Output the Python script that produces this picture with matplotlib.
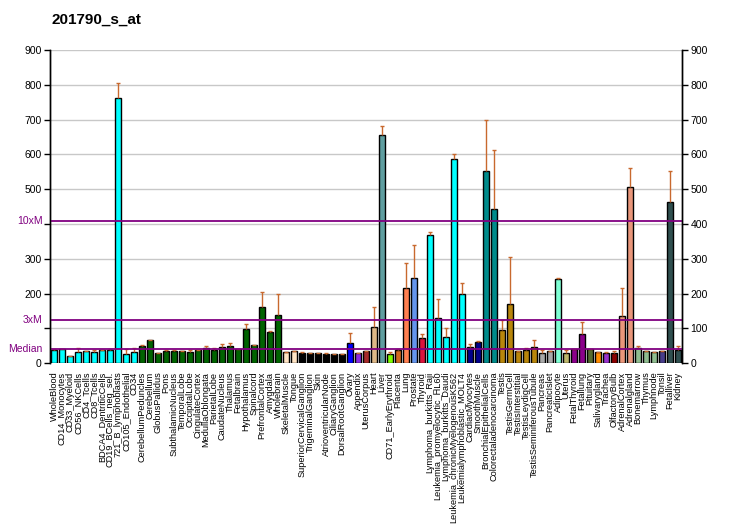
import matplotlib
matplotlib.use("Agg")
import matplotlib.pyplot as plt
import numpy as np

plt.rcParams['font.family'] = ['Liberation Sans', 'DejaVu Sans']

# tissue names
tissues = [
    "WholeBlood", "CD14_Monocytes", "CD33_Myeloid", "CD56_NKCells", "CD4_Tcells",
    "CD8_Tcells", "BDCA4_DentriticCells", "CD19_BCells_neg_sel.", "721_B_lymphoblasts",
    "CD105_Endothelial", "CD34", "CerebellumPeduncles", "Cerebellum", "GlobusPallidus",
    "Pons", "SubthalamicNucleus", "TemporalLobe", "OccipitalLobe", "CingulateCortex",
    "MedullaOblongata", "ParietalLobe", "CaudateNucleus", "Thalamus", "Fetalbrain",
    "Hypothalamus", "Spinalcord", "PrefrontalCortex", "Amygdala", "Wholebrain",
    "SkeletalMuscle", "Tongue", "SuperiorCervicalGanglion", "TrigeminalGanglion", "Skin",
    "AtrioventricularNode", "CiliaryGanglion", "DorsalRootGanglion", "Ovary", "Appendix",
    "UterusCorpus", "Heart", "Liver", "CD71_EarlyErythroid", "Placenta", "Lung",
    "Prostate", "Thyroid", "Lymphoma_burkitts_Raji", "Leukemia_promyelocytic_HL60",
    "Lymphoma_burkitts_Daudi", "Leukemia_chronicMyelogenousK562",
    "Leukemialymphoblastic_MOLT4", "CardiacMyocytes", "SmoothMuscle",
    "BronchialEpithelialCells", "Colorectaladenocarcinoma", "Testis", "TestisGermCell",
    "TestisInterstitial", "TestisLeydigCell", "TestisSeminiferousTubule", "Pancreas",
    "PancreaticIslet", "Adipocyte", "Uterus", "FetalThyroid", "Fetallung", "Pituitary",
    "Salivarygland", "Trachea", "OlfactoryBulb", "AdrenalCortex", "Adrenalgland",
    "Bonemarrow", "Thymus", "Lymphnode", "Tonsil", "Fetalliver", "Kidney",
]

values = [
    39, 42, 22, 33, 36, 33, 39, 37, 762, 28, 33,
    51, 68, 31, 34, 34, 36, 33, 37, 45, 39, 48, 51, 42, 99, 54, 163, 89, 140,
    33, 36, 29, 29, 29, 26, 26, 26, 59, 31, 36, 105, 656, 28, 37, 217, 246, 74,
    369, 131, 76, 587, 200, 48, 62, 553, 444,
    97, 171, 35, 38, 48, 31, 36, 243, 31, 40, 85, 41, 33, 31, 31, 137, 507,
    45, 36, 33, 36, 464, 39,
]

# top of the error bar
err_top = [
    41, 42, 22, 45, 36, 37, 39, 41, 805, 41, 45,
    54, 68, 31, 37, 37, 36, 37, 37, 49, 45, 56, 59, 42, 114, 54, 206, 94, 200,
    33, 36, 33, 31, 31, 31, 28, 26, 88, 31, 36, 163, 682, 33, 42, 289, 340, 85,
    378, 185, 102, 601, 231, 56, 65, 699, 613,
    125, 306, 35, 45, 68, 37, 36, 246, 37, 40, 120, 41, 33, 33, 36, 217, 562,
    51, 36, 33, 36, 553, 51,
]

colors = (
    ["#00FFFF"] * 11 + ["#006400"] * 18 + ["#FFE4C4"] * 2 + ["#000000"] * 6 +
    ["#0000FF", "#8A2BE2", "#A52A2A", "#DEB887", "#5F9EA0", "#7FFF00", "#D2691E",
     "#FF7F50", "#6495ED", "#DC143C"] +
    ["#00FFFF"] * 5 + ["#00008B"] * 2 + ["#008B8B"] * 2 + ["#B8860B"] * 5 +
    ["#A9A9A9"] * 2 + ["#7FFFD4", "#BDB76B"] + ["#8B008B"] * 2 +
    ["#556B2F", "#FF8C00", "#9932CC", "#8B0000"] + ["#E9967A"] * 2 +
    ["#8FBC8F"] * 3 + ["#483D8B"] + ["#2F4F4F"] * 2
)

median = 41
purple = "#800080"
err_color = "#C8692E"

fig = plt.figure(figsize=(7.32, 5.30), dpi=100)
ax = fig.add_axes([50 / 732, 1 - 363.3 / 530, 632 / 732, 313.3 / 530])

x = np.arange(len(tissues))
ax.set_axisbelow(True)
for y in range(100, 1000, 100):
    ax.axhline(y, color="#C8C8C8", lw=1, zorder=0)

ax.bar(x, values, width=0.82, color=colors, edgecolor="black", linewidth=1, zorder=2)

# error bars (upper part only)
ax.vlines(x, values, err_top, color=err_color, lw=1, zorder=3)
ax.hlines(err_top, x - 0.25, x + 0.25, color=err_color, lw=1, zorder=3)

for level in (median, 3 * median, 10 * median):
    ax.axhline(level, color=purple, lw=1.3, zorder=4)

ax.set_xlim(-0.5, len(tissues) - 0.5)
ax.set_ylim(0, 900)

ax.set_xticks(x)
ax.set_xticklabels(tissues, rotation=90, fontsize=6.6)
ax.tick_params(axis="x", length=0, pad=6)

yt = list(range(0, 1000, 100))
ax.set_yticks(yt)
ax.set_yticklabels([("" if v in (100, 400) else str(v)) for v in yt], fontsize=7.5)
ax.tick_params(axis="y", length=4, width=1, direction="out", pad=2)

ax2 = ax.twinx()
ax2.set_ylim(0, 900)
ax2.set_yticks(yt)
ax2.set_yticklabels([str(v) for v in yt], fontsize=7.5)
ax2.tick_params(axis="y", length=4, width=1, direction="out", pad=2)

for a in (ax, ax2):
    a.spines["top"].set_visible(False)
    a.spines["bottom"].set_visible(False)
    a.spines["left"].set_linewidth(1)
    a.spines["right"].set_linewidth(1)

for level, txt in ((median, "Median"), (3 * median, "3xM"), (10 * median, "10xM")):
    ax.text(-0.012, level, txt, transform=ax.get_yaxis_transform(),
            ha="right", va="center", color=purple, fontsize=7.5)

fig.text(52 / 732, 1 - 20 / 530, "201790_s_at", fontsize=11, fontweight="bold",
         ha="left", va="center")

fig.savefig("out.png", dpi=100)
